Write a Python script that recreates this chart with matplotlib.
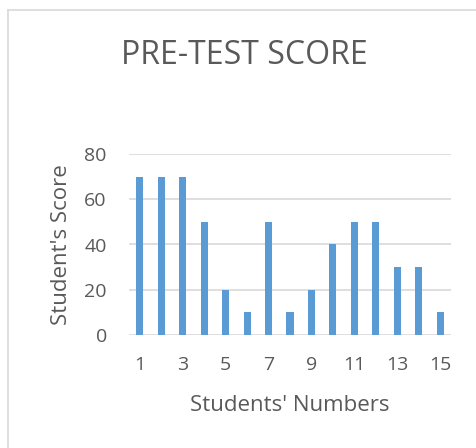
import matplotlib.pyplot as plt
from matplotlib.lines import Line2D

# Data
students = list(range(1, 16))
scores = [70, 70, 70, 50, 20, 10, 50, 10, 20, 40, 50, 50, 30, 30, 10]
tick_labels = [str(s) if s % 2 == 1 else "" for s in students]

plt.rcParams['font.family'] = ['Open Sans', 'DejaVu Sans']
text_color = '#595959'

fig = plt.figure(figsize=(4.77, 4.48), dpi=100)
W, H = 477, 448

# chart frame (top and left edges only visible)
fig.lines.append(Line2D([8 / W, 1], [1 - 10 / H, 1 - 10 / H], transform=fig.transFigure,
                        color='#d9d9d9', linewidth=1.2))
fig.lines.append(Line2D([8 / W, 8 / W], [0, 1 - 10 / H], transform=fig.transFigure,
                        color='#d9d9d9', linewidth=1.2))

ax = fig.add_axes([129 / W, 1 - 335 / H, (451 - 129) / W, (335 - 154) / H])
ax.bar(students, scores, width=0.33, color='#5b9bd5', zorder=3)

ax.set_xlim(0.5, 15.5)
ax.set_ylim(0, 80)
ax.set_yticks([0, 20, 40, 60, 80])
ax.set_xticks(students)
ax.set_xticklabels(tick_labels)
ax.grid(axis='y', color='#d9d9d9', linewidth=1.2, zorder=0)
ax.set_axisbelow(True)
for s in ax.spines.values():
    s.set_visible(False)
ax.tick_params(length=0, labelsize=14, colors=text_color)
ax.tick_params(axis='y', pad=16)
ax.tick_params(axis='x', pad=15)

ax.set_ylabel("Student's Score", fontsize=16, color=text_color, labelpad=9)
ax.set_xlabel("Students' Numbers", fontsize=16, color=text_color, labelpad=15)

fig.text(244 / W, 1 - 55 / H, "PRE-TEST SCORE", fontsize=23, color=text_color,
         ha='center', va='center')

fig.savefig("out.png", dpi=100)
